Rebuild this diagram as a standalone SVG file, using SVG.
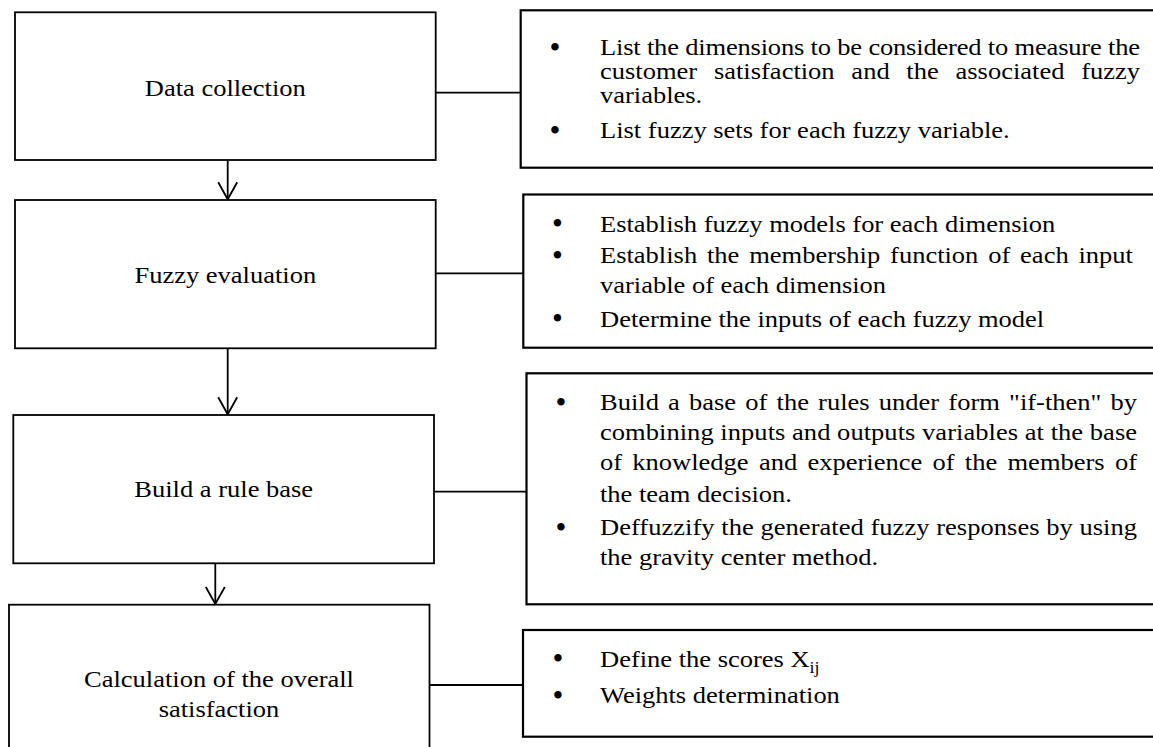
<svg xmlns="http://www.w3.org/2000/svg" width="1153" height="747" viewBox="0 0 1153 747">
<style>
.box{fill:#fff;stroke:#000;stroke-width:1.8}
.rbox{fill:#fff;stroke:#000;stroke-width:2.2}
.t{font-family:"Liberation Serif","Times New Roman",serif;font-size:23.6px;fill:#000}
.c{text-anchor:middle}
.b{font-family:"Liberation Serif","Times New Roman",serif;font-size:31px;fill:#000;text-anchor:middle}
.conn{stroke:#000;stroke-width:1.8;fill:none}
</style>
<defs>
<marker id="arr" markerUnits="userSpaceOnUse" markerWidth="40" markerHeight="40" refX="0" refY="0" orient="auto" overflow="visible">
<path d="M-17,-9.5 L0,0 L-17,9.5" fill="none" stroke="#000" stroke-width="1.8"/>
</marker>
</defs>
<rect width="1153" height="747" fill="#fff"/>

<g id="connectors">
<line class="conn" x1="435.7" y1="92.7" x2="520.7" y2="92.7"/>
<line class="conn" x1="429" y1="273.3" x2="523.3" y2="273.3"/>
<line class="conn" x1="432" y1="491.7" x2="526.5" y2="491.7"/>
<line class="conn" x1="429.5" y1="685" x2="523" y2="685"/>
<line class="conn" x1="227.7" y1="160" x2="227.7" y2="199.3" marker-end="url(#arr)"/>
<line class="conn" x1="227.7" y1="348.3" x2="227.7" y2="414.3" marker-end="url(#arr)"/>
<line class="conn" x1="215.3" y1="563.3" x2="215.3" y2="604" marker-end="url(#arr)"/>
</g>

<g id="n1">
<rect class="box" x="15" y="12.3" width="420.7" height="147.7"/>
<text class="t c" transform="translate(225.3,96) scale(1.123,1)" x="0" y="0">Data collection</text>
</g>
<g id="n2">
<rect class="box" x="15" y="200" width="420.7" height="148.3"/>
<text class="t c" transform="translate(225.3,283) scale(1.123,1)" x="0" y="0">Fuzzy evaluation</text>
</g>
<g id="n3">
<rect class="box" x="13.3" y="415" width="420.7" height="148.3"/>
<text class="t c" transform="translate(223.7,497) scale(1.123,1)" x="0" y="0">Build a rule base</text>
</g>
<g id="n4">
<rect class="box" x="9" y="604.7" width="420.5" height="170"/>
<text class="t c" transform="translate(219,687) scale(1.123,1)" x="0" y="0">Calculation of the overall</text>
<text class="t c" transform="translate(219,716.5) scale(1.123,1)" x="0" y="0">satisfaction</text>
</g>

<g id="r1">
<rect class="rbox" x="520.7" y="10.3" width="650" height="157.4"/>
<text class="b" x="555" y="57.5">•</text>
<text class="b" x="555" y="140.5">•</text>
<g transform="translate(600,0) scale(1.123,1)">
<text class="t" x="0" y="55" textLength="480.9" lengthAdjust="spacing">List the dimensions to be considered to measure the</text>
<text class="t" x="0" y="79" word-spacing="9" textLength="480.9" lengthAdjust="spacing">customer satisfaction and the associated fuzzy</text>
<text class="t" x="0" y="103">variables.</text>
<text class="t" x="0" y="138">List fuzzy sets for each fuzzy variable.</text>
</g>
</g>

<g id="r2">
<rect class="rbox" x="523.3" y="194.5" width="650" height="153.2"/>
<text class="b" x="557.5" y="234.2">•</text>
<text class="b" x="557.5" y="265.8">•</text>
<text class="b" x="557.5" y="329.2">•</text>
<g transform="translate(600,0) scale(1.123,1)">
<text class="t" x="0" y="231.7">Establish fuzzy models for each dimension</text>
<text class="t" x="0" y="263.3" word-spacing="2.85" textLength="474.6" lengthAdjust="spacing">Establish the membership function of each input</text>
<text class="t" x="0" y="293">variable of each dimension</text>
<text class="t" x="0" y="326.7">Determine the inputs of each fuzzy model</text>
</g>
</g>

<g id="r3">
<rect class="rbox" x="526.5" y="373.3" width="650" height="231"/>
<text class="b" x="561" y="412.5">•</text>
<text class="b" x="561" y="537.5">•</text>
<g transform="translate(600,0) scale(1.123,1)">
<text class="t" x="0" y="410" word-spacing="2.28" textLength="478.2" lengthAdjust="spacing">Build a base of the rules under form "if-then" by</text>
<text class="t" x="0" y="440" textLength="478.2" lengthAdjust="spacing">combining inputs and outputs variables at the base</text>
<text class="t" x="0" y="470" word-spacing="3.24" textLength="478.2" lengthAdjust="spacing">of knowledge and experience of the members of</text>
<text class="t" x="0" y="501.7">the team decision.</text>
<text class="t" x="0" y="535" textLength="478.2" lengthAdjust="spacing">Deffuzzify the generated fuzzy responses by using</text>
<text class="t" x="0" y="565">the gravity center method.</text>
</g>
</g>

<g id="r4">
<rect class="rbox" x="523" y="630" width="650" height="106.7"/>
<text class="b" x="558" y="669.2">•</text>
<text class="b" x="558" y="705.8">•</text>
<g transform="translate(600,0) scale(1.123,1)">
<text class="t" x="0" y="666.7">Define the scores X<tspan dy="6" font-size="16">ij</tspan></text>
<text class="t" x="0" y="703.3">Weights determination</text>
</g>
</g>
</svg>
